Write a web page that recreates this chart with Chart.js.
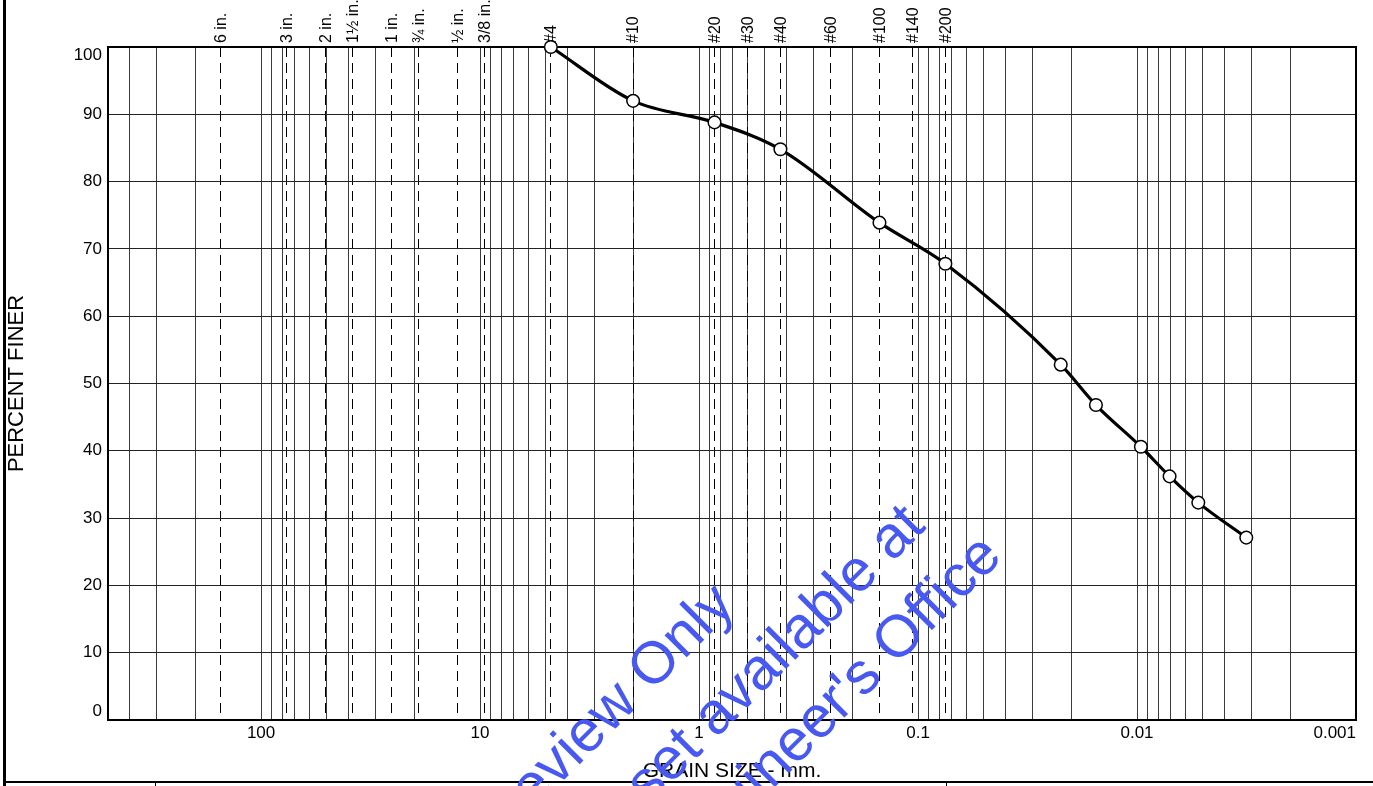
<!DOCTYPE html>
<html>
<head>
<meta charset="utf-8">
<title>Grain Size Distribution</title>
<script src="https://cdn.jsdelivr.net/npm/chart.js@4.4.1/dist/chart.umd.min.js"></script>
<style>
  html, body { margin: 0; padding: 0; background: #fff; }
  #wrap { width: 1373px; height: 786px; position: relative; }
</style>
</head>
<body>
<div id="wrap"><canvas id="gradation"></canvas></div>
<script>
// grain size (mm) vs percent finer
const grainSizes = [4.75, 2.0, 0.85, 0.425, 0.15, 0.075, 0.0223, 0.0154, 0.0096, 0.0071, 0.00525, 0.00317];
const percentFiner = [100, 92.0, 88.8, 84.8, 73.9, 67.8, 52.8, 46.8, 40.6, 36.2, 32.3, 27.1];

// sieve openings (mm) and the names printed above the plot
const sieveSizes = [152.4, 76.2, 50.8, 38.1, 25.4, 19.05, 12.7, 9.525, 4.75, 2.0, 0.85, 0.6, 0.425, 0.25, 0.15, 0.106, 0.075];
const sieveLabels = ['6 in.', '3 in.', '2 in.', '1½ in.', '1 in.', '¾ in.', '½ in.', '3/8 in.', '#4', '#10', '#20', '#30', '#40', '#60', '#100', '#140', '#200'];

// log paper: decade lines with 1..9 subdivisions
const decades = [0.001, 0.01, 0.1, 1, 10, 100];
const decadeLabels = ['0.001', '0.01', '0.1', '1', '10', '100'];
const gridSteps = [1, 2, 3, 4, 5, 6, 7, 8, 9];
const xMin = 0.001, xMax = 500;

const watermarkLines = ['Preview Only', 'Complete set available at', "the Engineer's Office"];

const gridValues = decades
  .flatMap(d => gridSteps.map(s => Number((d * s).toPrecision(6))))
  .filter(v => v <= xMax)
  .sort((a, b) => a - b);
const sieveTicks = sieveSizes.slice().sort((a, b) => a - b);

Chart.defaults.font.family = "'Liberation Sans', Arial, sans-serif";
Chart.defaults.color = '#000';

function fixBox(s, w, h) {
  if (w != null) s.width = w;
  if (h != null) s.height = h;
  s.paddingLeft = s.paddingRight = s.paddingTop = s.paddingBottom = 0;
}

// page furniture: white sheet, left rule, bottom rule of the table below
const sheet = {
  id: 'sheet',
  beforeDraw(chart) {
    const ctx = chart.ctx;
    ctx.save();
    ctx.fillStyle = '#fff';
    ctx.fillRect(0, 0, chart.width, chart.height);
    ctx.strokeStyle = '#000';
    ctx.lineWidth = 3;
    ctx.beginPath(); ctx.moveTo(4.5, 0); ctx.lineTo(4.5, chart.height); ctx.stroke();
    ctx.lineWidth = 2;
    ctx.beginPath(); ctx.moveTo(3, 782); ctx.lineTo(chart.width, 782); ctx.stroke();
    ctx.lineWidth = 1;
    [155.5, 946.5].forEach(x => { ctx.beginPath(); ctx.moveTo(x, 782); ctx.lineTo(x, chart.height); ctx.stroke(); });
    ctx.restore();
  }
};

// heavy frame round the plot, under the points
const frame = {
  id: 'frame',
  beforeDatasetsDraw(chart) {
    const { ctx, chartArea: a } = chart;
    ctx.save();
    ctx.strokeStyle = '#000';
    ctx.lineWidth = 2;
    ctx.strokeRect(a.left, a.top, a.right - a.left, a.bottom - a.top);
    ctx.restore();
  }
};

const stamp = {
  id: 'stamp',
  afterDraw(chart) {
    const ctx = chart.ctx;
    const anchors = [[737, 607], [927, 528], [1004, 558]];
    ctx.save();
    ctx.fillStyle = '#4759f0';
    ctx.font = "59px 'Liberation Sans', Arial, sans-serif";
    ctx.textAlign = 'right';
    ctx.textBaseline = 'alphabetic';
    watermarkLines.forEach((t, i) => {
      ctx.save();
      ctx.translate(anchors[i][0], anchors[i][1]);
      ctx.rotate(-45 * Math.PI / 180);
      ctx.fillText(t, 0, 0);
      ctx.restore();
    });
    ctx.restore();
  }
};

new Chart(document.getElementById('gradation'), {
  type: 'line',
  data: {
    datasets: [{
      data: grainSizes.map((g, i) => ({ x: g, y: percentFiner[i] })),
      xAxisID: 'x', yAxisID: 'y',
      borderColor: '#000', borderWidth: 3.2,
      pointRadius: 6.3, pointHoverRadius: 6.3,
      pointBackgroundColor: '#fff', pointBorderColor: '#000', pointBorderWidth: 1.5,
      cubicInterpolationMode: 'monotone',
      clip: false
    }]
  },
  options: {
    responsive: true, maintainAspectRatio: false, animation: false,
    layout: { padding: { left: 0, right: 17, top: 0, bottom: 0 } },
    plugins: { legend: { display: false }, tooltip: { enabled: false } },
    scales: {
      x: {
        type: 'logarithmic', position: 'bottom', reverse: true, min: xMin, max: xMax,
        afterBuildTicks: s => { s.ticks = gridValues.map(v => ({ value: v })); },
        afterFit: s => fixBox(s, null, 66),
        grid: { color: '#3c3c3c', lineWidth: 1, drawTicks: false },
        border: { display: false },
        ticks: {
          autoSkip: false, maxRotation: 0, minRotation: 0, padding: 3, align: 'inner',
          font: { size: 17 },
          callback: v => { const i = decades.indexOf(v); return i >= 0 ? decadeLabels[i] : ''; }
        },
        title: { display: true, text: 'GRAIN SIZE - mm.', font: { size: 21 }, padding: { top: 0, bottom: 2 } }
      },
      x2: {
        type: 'logarithmic', position: 'top', reverse: true, min: xMin, max: xMax,
        afterBuildTicks: s => { s.ticks = sieveTicks.map(v => ({ value: v })); },
        afterFit: s => fixBox(s, null, 47),
        grid: { color: '#000', lineWidth: 1, drawTicks: false, borderDash: [10, 6] },
        border: { display: false, dash: [10, 6] },
        ticks: {
          autoSkip: false, minRotation: 90, maxRotation: 90, padding: 4, labelOffset: 20,
          font: { size: 16 },
          callback: v => sieveLabels[sieveSizes.indexOf(v)]
        }
      },
      y: {
        min: 0, max: 100,
        afterFit: s => fixBox(s, 108, null),
        grid: { color: '#222', lineWidth: 1, drawTicks: false },
        border: { display: false },
        ticks: {
          stepSize: 10, padding: 6, font: { size: 17, lineHeight: 1 },
          // end labels sit inside the frame, as on the printed sheet
          callback: v => v === 100 ? ['', '100'] : v === 0 ? ['0', ''] : String(v)
        },
        title: { display: true, text: 'PERCENT FINER', font: { size: 22 }, padding: { top: 4, bottom: 0 } }
      }
    }
  },
  plugins: [sheet, frame, stamp]
});
</script>
</body>
</html>
